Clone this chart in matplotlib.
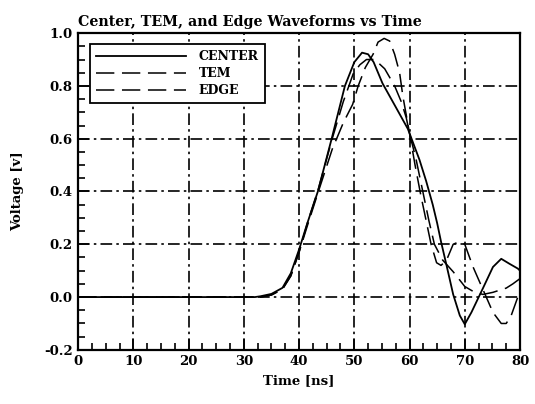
import matplotlib
matplotlib.use('Agg')
import matplotlib.pyplot as plt
from matplotlib.ticker import MultipleLocator

# Waveform samples (time in ns, voltage in v)
t_center = [0, 30, 32, 33, 35, 37, 38.5, 40, 41.5, 43.4, 45.9, 48.3, 50, 51.4,
            52.5, 53.5, 55.1, 57.5, 59.7, 61.8, 63, 64.2, 65, 65.7, 66.7, 67.9,
            69.1, 70, 71.2, 73.3, 75.1, 76.6, 78.1, 79.6, 80]
v_center = [0, 0, 0, 0.003, 0.012, 0.035, 0.09, 0.18, 0.28, 0.4, 0.6, 0.8, 0.89,
            0.926, 0.92, 0.89, 0.81, 0.72, 0.637, 0.52, 0.44, 0.35, 0.28, 0.21,
            0.12, 0.01, -0.07, -0.103, -0.058, 0.034, 0.114, 0.145, 0.126,
            0.108, 0.1]

t_tem = [0, 33, 35, 37, 38.5, 40, 41.5, 43.5, 46, 48, 49.7, 50.7, 52, 53.4,
         54.3, 55.4, 56.4, 57.3, 58.2, 58.8, 59.4, 60, 61, 62, 63, 63.9, 64.9,
         65.7, 66.7, 67.9, 69, 70, 71.5, 73.3, 75.1, 76.6, 77.5, 78.4, 79.6, 80]
v_tem = [0, 0, 0.008, 0.03, 0.08, 0.17, 0.27, 0.4, 0.56, 0.66, 0.73, 0.8, 0.87,
         0.92, 0.966, 0.98, 0.97, 0.92, 0.85, 0.76, 0.69, 0.62, 0.5, 0.39, 0.29,
         0.2, 0.13, 0.12, 0.14, 0.2, 0.21, 0.2, 0.114, 0.028, -0.058, -0.1, -0.1,
         -0.07, 0.0, 0.02]

t_edge = [0, 33, 35, 37, 38.5, 40, 41.5, 43.5, 46, 48, 49.8, 51, 52.2, 53.7,
          55.5, 57.3, 58.5, 59.4, 60, 61.2, 62.4, 63.5, 64.5, 66, 67.9, 70,
          71.8, 73.3, 75.1, 77.5, 78.7, 80]
v_edge = [0, 0, 0.008, 0.03, 0.08, 0.17, 0.28, 0.41, 0.6, 0.74, 0.846, 0.88,
          0.9, 0.9, 0.865, 0.8, 0.74, 0.68, 0.62, 0.52, 0.4, 0.29, 0.2, 0.14,
          0.096, 0.04, 0.018, 0.01, 0.018, 0.034, 0.05, 0.07]

plt.rcParams.update({
    'font.family': 'DejaVu Serif',
    'font.weight': 'bold',
    'font.size': 9,
    'axes.linewidth': 1.6,
    'axes.unicode_minus': False,
})

fig = plt.figure(figsize=(5.35, 4.04), dpi=100)
ax = fig.add_axes([0.146, 0.134, 0.826, 0.784])

ax.plot(t_center, v_center, color='black', lw=1.3, label='CENTER')
ax.plot(t_tem, v_tem, color='black', lw=1.1, linestyle=(0, (12, 5)), label='TEM')
ax.plot(t_edge, v_edge, color='black', lw=1.1, linestyle=(0, (12, 5)), label='EDGE')

ax.set_xlim(0, 80)
ax.set_ylim(-0.2, 1.0)
ax.xaxis.set_major_locator(MultipleLocator(10))
ax.xaxis.set_minor_locator(MultipleLocator(2.5))
ax.yaxis.set_major_locator(MultipleLocator(0.2))
ax.yaxis.set_minor_locator(MultipleLocator(0.05))
ax.yaxis.set_major_formatter(matplotlib.ticker.FormatStrFormatter('%.1f'))
ax.tick_params(which='both', direction='in', top=False, right=False, width=1.2)
ax.tick_params(which='major', length=8, labelsize=9.5, pad=4)
ax.tick_params(which='minor', length=5)

ax.grid(True, which='major', color='black', lw=1.2, linestyle=(0, (7, 2.5, 1.5, 2.5)))

ax.set_title('Center, TEM, and Edge Waveforms vs Time', fontsize=10.3,
             fontweight='bold', loc='left', pad=5)
ax.set_xlabel('Time [ns]', fontsize=9.5, fontweight='bold')
ax.set_ylabel('Voltage [v]', fontsize=9.5, fontweight='bold', labelpad=14)

leg = ax.legend(loc='upper left', bbox_to_anchor=(0.012, 0.985), fancybox=False,
                framealpha=1, edgecolor='black', handlelength=7.2, fontsize=9,
                borderpad=0.5, labelspacing=0.3, handletextpad=1.0)
leg.get_frame().set_linewidth(1.3)

fig.savefig('out.png', dpi=100)
